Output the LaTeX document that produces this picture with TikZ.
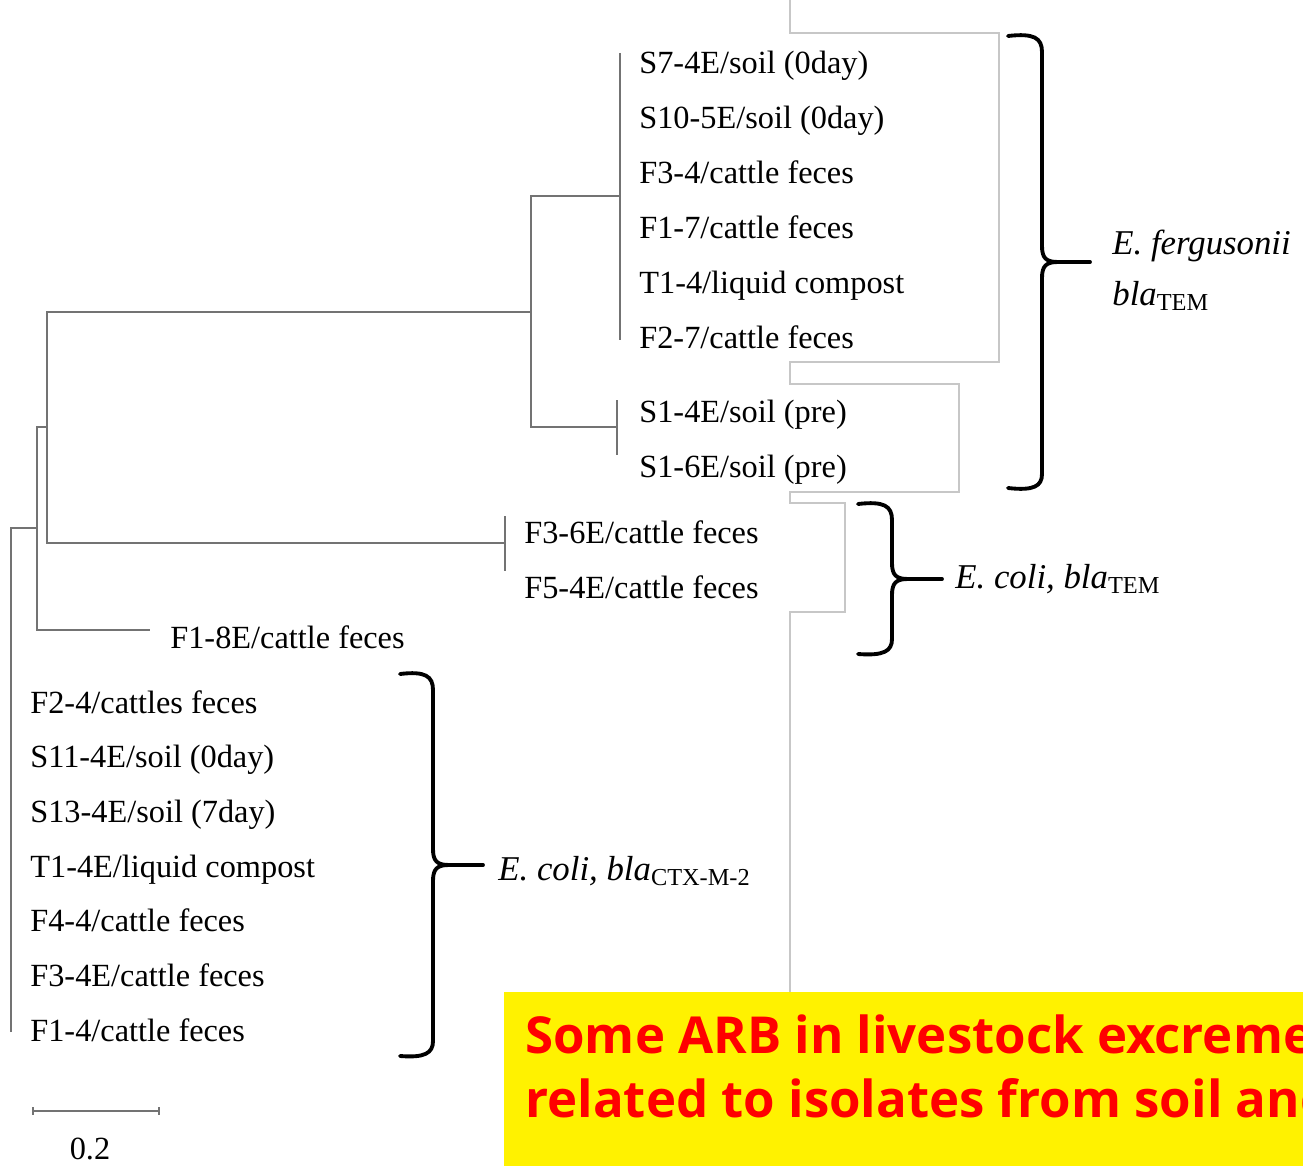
\documentclass[tikz,border=0pt]{standalone}
\usepackage{fontspec}
\setmainfont{Liberation Serif}
\newfontfamily\notefont{Open Sans}
\begin{document}
\begin{tikzpicture}[x=0.02cm, y=-0.02cm,
		branch/.style={draw=black!55, line width=0.9pt},
		frameline/.style={draw=black!22, line width=0.6pt},
		bracket/.style={draw=black, line width=2.2pt, line cap=round, line join=round},
		leaf/.style={anchor=base west, inner sep=0pt, font=\fontsize{18.4}{22}\selectfont},
		group/.style={anchor=base west, inner sep=0pt, font=\fontsize{19.8}{24}\selectfont\itshape},
		note/.style={anchor=base west, inner sep=0pt, text=red, font=\notefont\bfseries\fontsize{29}{35}\selectfont}]
				\useasboundingbox (0,0) rectangle (1303,1166);
				% Frame lines
				\draw[frameline] (790,0) -- (790,33) -- (999,33) -- (999,362) -- (790,362) -- (790,384) -- (959,384) -- (959,492) -- (790,492) -- (790,503) -- (845,503) -- (845,612) -- (790,612) -- (790,992);
				% Tree
				\coordinate (r) at (11,528);
				\coordinate (rb) at (11,1032);
				\coordinate (a) at (37,528);
				\coordinate (b) at (47,427);
				\coordinate (c) at (531,312);
				\coordinate (d) at (505,543);
				\coordinate (e) at (620,196);
				\coordinate (g) at (617,427);
				\coordinate (f) at (150,630);
				\draw[branch] (rb) -- (r) -- (a);
				\draw[branch] (a) |- (b);
				\draw[branch] (a) |- (f);
				\draw[branch] (b) |- (c);
				\draw[branch] (b) |- (d);
				\draw[branch] (c) |- (e);
				\draw[branch] (c) |- (g);
				\draw[branch] (e) ++(0,-143) -- ++(0,287);
				\draw[branch] (g) ++(0,-27) -- ++(0,55);
				\draw[branch] (d) ++(0,-27) -- ++(0,55);
				% Leaf labels
				\foreach \t [count=\i from 0] in {S7-4E/soil (0day), S10-5E/soil (0day), F3-4/cattle feces, F1-7/cattle feces, T1-4/liquid compost, F2-7/cattle feces}
					\node[leaf] (u\i) at (639,{74+54.8*\i}) {\t};
				\foreach \t [count=\i from 0] in {S1-4E/soil (pre), S1-6E/soil (pre)}
					\node[leaf] (s\i) at (639,{422+55*\i}) {\t};
				\foreach \t [count=\i from 0] in {F3-6E/cattle feces, F5-4E/cattle feces}
					\node[leaf] (m\i) at (524,{543+55*\i}) {\t};
				\node[leaf] (f18) at (170,648) {F1-8E/cattle feces};
				\foreach \t [count=\i from 0] in {F2-4/cattles feces, S11-4E/soil (0day), S13-4E/soil (7day), T1-4E/liquid compost, F4-4/cattle feces, F3-4E/cattle feces, F1-4/cattle feces}
					\node[leaf] (l\i) at (30,{713+54.7*\i}) {\t};
				% Braces
				\draw[bracket] (1008,36) .. controls (1034,33) and (1042,38) .. (1042,52) -- (1042,246) .. controls (1042,258) and (1046,262) .. (1058,262) .. controls (1046,262) and (1042,266) .. (1042,278) -- (1042,474) .. controls (1042,486) and (1034,491) .. (1008,488);
				\draw[bracket] (1056,262) -- (1090,262);
				\draw[bracket] (858,504) .. controls (884,501) and (892,506) .. (892,520) -- (892,563) .. controls (892,575) and (896,579) .. (908,579) .. controls (896,579) and (892,583) .. (892,595) -- (892,639) .. controls (892,651) and (884,656) .. (858,654);
				\draw[bracket] (906,579) -- (942,579);
				\draw[bracket] (400,674) .. controls (425,671) and (433,676) .. (433,690) -- (433,849) .. controls (433,861) and (437,865) .. (449,865) .. controls (437,865) and (433,869) .. (433,881) -- (433,1041) .. controls (433,1053) and (425,1058) .. (400,1056);
				\draw[bracket] (447,865) -- (483,865);
				% Group labels
				\node[group] (fer) at (1112,255) {E.\ fergusonii};
				\node[group] (fert) at (1112,305) {bla\textsubscript{\upshape TEM}};
				\node[group] (colt) at (955,588) {E.\ coli, bla\textsubscript{\upshape TEM}};
				\node[group] (colc) at (498,880) {E.\ coli, bla\textsubscript{\upshape CTX-M-2}};
				% Scale bar
				\draw[branch] (33,1111) -- (159,1111);
				\foreach \x in {33,159}
					\draw[branch] (\x,1107) -- (\x,1115);
				\node[leaf, anchor=base] (sb) at (90,1159) {0.2};
				% Note box
				\begin{scope}
					\clip (504,992) rectangle (1303,1166);
					\fill[yellow] (504,992) rectangle (1303,1166);
					\node[note] (n1) at (525,1053) {Some ARB in livestock excrement};
					\node[note] (n2) at (525,1117) {related to isolates from soil and};
				\end{scope}
			\end{tikzpicture}
\end{document}
